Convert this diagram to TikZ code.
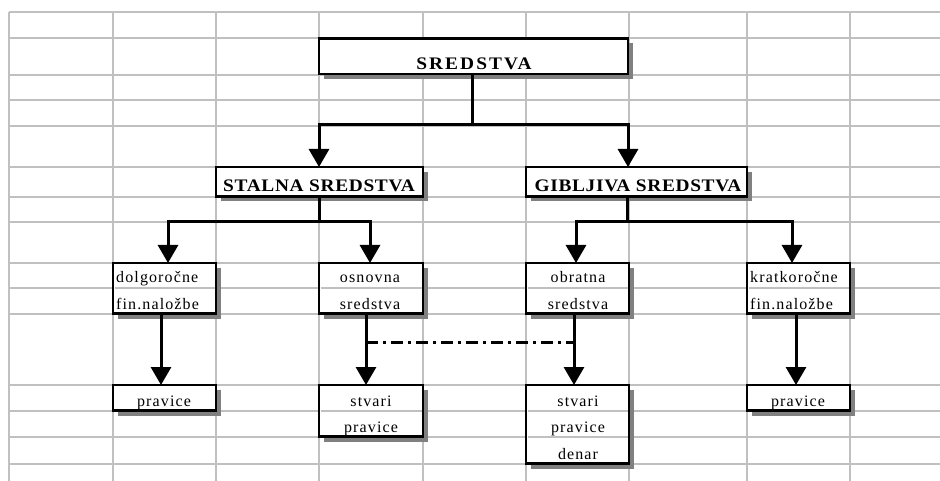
\documentclass[tikz,border=0pt]{standalone}
\usepackage{graphicx}
\usepackage{fontspec}
\setmainfont{Liberation Serif}
\newfontfamily\hdA[LetterSpace=10.8]{Liberation Serif}
\newfontfamily\hdB[LetterSpace=3.5]{Liberation Serif}
\newfontfamily\nrm[LetterSpace=7,Ligatures=NoCommon]{Liberation Serif}
\newcommand\widen[1]{\scalebox{1.1}[1]{#1}}
\usetikzlibrary{arrows.meta,fit,shadows}
\definecolor{gridgray}{HTML}{C0C0C0}
\definecolor{shadowgray}{HTML}{808080}
\begin{document}
\begin{tikzpicture}[x=1pt,y=-1pt,
  gridline/.style={draw=gridgray,line width=1.8pt},
  box/.style={draw=black,line width=2.4pt,fill=white,inner sep=0pt,outer sep=0pt,
    drop shadow={shadow xshift=5pt,shadow yshift=-5pt,fill=shadowgray,opacity=1}},
  conn/.style={line width=3pt},
  arr/.style={conn,-{Triangle[width=20pt,length=18pt]}},
  dashdot/.style={conn,dash pattern=on 12pt off 5pt on 3pt off 5pt},
  hA/.style={inner sep=0pt,anchor=base,font={\hdA\bfseries\fontsize{17.6pt}{18pt}\selectfont}},
  hB/.style={inner sep=0pt,anchor=base,font={\hdB\bfseries\fontsize{17.6pt}{18pt}\selectfont}},
  tc/.style={inner sep=0pt,anchor=base,font={\nrm\fontsize{16pt}{17pt}\selectfont}},
  tl/.style={tc,anchor=base west}
]
\fill[white] (0,0) rectangle (940,481);
\useasboundingbox (0,0) rectangle (940,481);
% spreadsheet grid
\foreach \x in {9,113,216,319,423,526,629,747,850} \draw[gridline] (\x,12) -- (\x,481);
\foreach \y in {12,38,75,100,126,167,197,222,263,288,314,385,411,437,464} \draw[gridline] (9,\y) -- (940,\y);
% boxes
\node[box,fit={(319,38.5) (628,74)}] (b0) {};
\node[box,fit={(216,167) (423,196.5)}] (b1) {};
\node[box,fit={(526,167) (747,196.5)}] (b2) {};
\node[box,fit={(113,263) (216,313.5)}] (b3) {};
\node[box,fit={(319,263) (423,313.5)}] (b4) {};
\node[box,fit={(526,263) (629,313.5)}] (b5) {};
\node[box,fit={(747,263) (850,313.5)}] (b6) {};
\node[box,fit={(113,385) (216,410.5)}] (b7) {};
\node[box,fit={(319,385) (423,436.5)}] (b8) {};
\node[box,fit={(526,385) (629,463.5)}] (b9) {};
\node[box,fit={(747,385) (850,410.5)}] (b10) {};
% row lines showing through the boxes
\foreach \a/\b in {114.5/214.5,320.5/421.5,527.5/627.5,748.5/848.5} \draw[gridline] (\a,288) -- (\b,288);
\draw[gridline] (320.5,411) -- (421.5,411);
\draw[gridline] (527.5,411) -- (627.5,411);
\draw[gridline] (527.5,437) -- (627.5,437);
% texts
\node[hA] (t0) at (474,70) {\widen{SREDSTVA}};
\node[hB] (t1) at (319,192) {\widen{STALNA SREDSTVA}};
\node[hB] (t2) at (638,192) {\widen{GIBLJIVA SREDSTVA}};
\node[tl] (t3a) at (116,283) {dolgoročne};
\node[tl] (t3b) at (116,309) {fin.naložbe};
\node[tc] (t4a) at (370,283) {osnovna};
\node[tc] (t4b) at (370,309) {sredstva};
\node[tc] (t5a) at (578,283) {obratna};
\node[tc] (t5b) at (578,309) {sredstva};
\node[tl] (t6a) at (750,283) {kratkoročne};
\node[tl] (t6b) at (750,309) {fin.naložbe};
\node[tc] (t7) at (164,406) {pravice};
\node[tc] (t8a) at (371,406) {stvari};
\node[tc] (t8b) at (371,432) {pravice};
\node[tc] (t9a) at (578,406) {stvari};
\node[tc] (t9b) at (578,432) {pravice};
\node[tc] (t9c) at (578,459) {denar};
\node[tc] (t10) at (798,406) {pravice};
% connectors level 1 -> 2
\coordinate (j0) at (472,125);
\coordinate (jr) at (628,125);
\coordinate (jl) at (319,125);
\draw[conn] (b0.south -| j0) -- (j0);
\draw[arr] (j0) -- (jl) -- (jl |- b1.north);
\draw[arr] (j0) -- (jr) -- (jr |- b2.north);
% level 2 -> 3
\coordinate (k1) at (319,222);
\coordinate (a3) at (168,222);
\coordinate (a4) at (370,222);
\draw[conn] (b1.south -| k1) -- (k1);
\draw[arr] (k1) -- (a3) -- (a3 |- b3.north);
\draw[arr] (k1) -- (a4) -- (a4 |- b4.north);
\coordinate (k2) at (627,222);
\coordinate (a5) at (576,222);
\coordinate (a6) at (792,222);
\draw[conn] (b2.south -| k2) -- (k2);
\draw[arr] (k2) -- (a5) -- (a5 |- b5.north);
\draw[arr] (k2) -- (a6) -- (a6 |- b6.north);
% level 3 -> 4
\coordinate (c7) at (161,0);
\coordinate (c8) at (366,0);
\coordinate (c9) at (574,0);
\coordinate (c10) at (796,0);
\draw[arr] (b3.south -| c7) -- (b7.north -| c7);
\draw[arr] (b4.south -| c8) -- (b8.north -| c8);
\draw[arr] (b5.south -| c9) -- (b9.north -| c9);
\draw[arr] (b6.south -| c10) -- (b10.north -| c10);
\coordinate (d1) at (366,342);
\coordinate (d2) at (574,342);
\draw[dashdot] (d1) -- (d2);
\end{tikzpicture}
\end{document}
